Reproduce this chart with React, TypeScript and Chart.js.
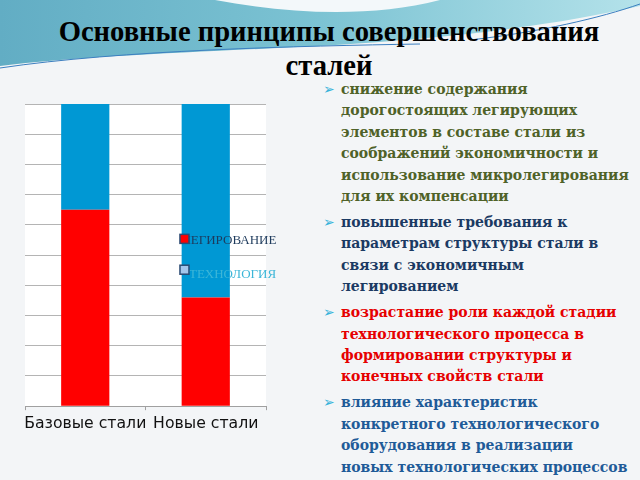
import { useEffect, useRef } from "react";
import { Chart, registerables, Plugin } from "chart.js";

Chart.register(...registerables);

const categories = ["Базовые стали", "Новые стали"];
const seriesLabels = ["ЛЕГИРОВАНИЕ", "ТЕХНОЛОГИЯ"];
const alloyingValues = [65, 36];
const technologyValues = [35, 64];
const barColors = ["#ff0000", "#0098d4"];
const legendSwatches = ["#ff0000", "#a4c6ec"];
const legendTextColors = ["#1d3a5c", "#3cb6d8"];

const titleLines = ["Основные принципы совершенствования", "сталей"];

const bullets = [
  {
    color: "#4f6228",
    lines: [
      "снижение содержания",
      "дорогостоящих легирующих",
      "элементов в составе стали из",
      "соображений экономичности и",
      "использование микролегирования",
      "для их компенсации",
    ],
  },
  {
    color: "#1b3a63",
    lines: [
      "повышенные требования к",
      "параметрам структуры стали в",
      "связи с экономичным",
      "легированием",
    ],
  },
  {
    color: "#e60000",
    lines: [
      "возрастание роли каждой стадии",
      "технологического процесса в",
      "формировании структуры и",
      "конечных свойств стали",
    ],
  },
  {
    color: "#1f5b98",
    lines: [
      "влияние характеристик",
      "конкретного технологического",
      "оборудования в реализации",
      "новых технологических процессов",
    ],
  },
];

// white plot background
const plotBg: Plugin = {
  id: "plotBg",
  beforeDraw(chart) {
    const { ctx, chartArea } = chart;
    ctx.save();
    ctx.fillStyle = "#ffffff";
    ctx.fillRect(chartArea.left, chartArea.top, chartArea.right - chartArea.left, chartArea.bottom - chartArea.top);
    ctx.restore();
  },
};

// legend drawn inside the plot, over the second bar
const innerLegend: Plugin = {
  id: "innerLegend",
  afterDraw(chart) {
    const { ctx, chartArea } = chart;
    const w = chartArea.right - chartArea.left;
    const h = chartArea.bottom - chartArea.top;
    const lx = chartArea.left + w * 0.643;
    const ys = [chartArea.top + h * 0.448, chartArea.top + h * 0.56];
    ctx.save();
    ctx.font = "13px 'Liberation Serif'";
    ctx.textBaseline = "middle";
    chart.data.datasets.forEach((ds, i) => {
      const y = ys[i];
      ctx.fillStyle = legendTextColors[i];
      ctx.fillText(String(ds.label), lx + 2 + i * 7, y + 1);
      ctx.fillStyle = legendSwatches[i];
      ctx.strokeStyle = "#2b4b74";
      ctx.lineWidth = 1.5;
      const sy = y - 5 - i * 3;
      ctx.fillRect(lx, sy, 9, 9);
      ctx.strokeRect(lx, sy, 9, 9);
    });
    ctx.restore();
  },
};

function StackChart() {
  const canvasRef = useRef<HTMLCanvasElement>(null);

  useEffect(() => {
    if (!canvasRef.current) return;
    const chart = new Chart(canvasRef.current, {
      type: "bar",
      data: {
        labels: categories,
        datasets: [
          {
            label: seriesLabels[0],
            data: alloyingValues,
            backgroundColor: barColors[0],
            barPercentage: 0.4,
            categoryPercentage: 1,
          },
          {
            label: seriesLabels[1],
            data: technologyValues,
            backgroundColor: barColors[1],
            barPercentage: 0.4,
            categoryPercentage: 1,
          },
        ],
      },
      options: {
        animation: false,
        responsive: true,
        maintainAspectRatio: false,
        layout: { padding: { left: 25, right: 24, top: 14, bottom: 0 } },
        plugins: {
          legend: { display: false },
          tooltip: { enabled: false },
        },
        scales: {
          x: {
            stacked: true,
            grid: { drawOnChartArea: false, tickLength: 4, color: "#a0a0a0" },
            border: { color: "#a0a0a0" },
            ticks: {
              color: "#111111",
              font: { family: "'DejaVu Sans'", size: 15.7 },
              maxRotation: 0,
              minRotation: 0,
              autoSkip: false,
              padding: 4,
            },
          },
          y: {
            stacked: true,
            min: 0,
            max: 100,
            ticks: { display: false, stepSize: 10 },
            border: { display: false },
            grid: { color: "#b4b4b4", drawTicks: false },
          },
        },
      },
      plugins: [plotBg, innerLegend],
    });
    return () => chart.destroy();
  }, []);

  return <canvas ref={canvasRef} />;
}

export default function App() {
  return (
    <div
      style={{
        position: "fixed",
        left: 0,
        top: 0,
        width: 640,
        height: 480,
        overflow: "hidden",
        background: "#f3f5f7",
      }}
    >
      <svg width="640" height="80" style={{ position: "absolute", left: 0, top: 0 }}>
        <defs>
          <linearGradient id="wave" x1="0" y1="0" x2="1" y2="0">
            <stop offset="0" stopColor="#62adc4" />
            <stop offset="0.5" stopColor="#7cc3d3" />
            <stop offset="1" stopColor="#b4e2ea" />
          </linearGradient>
        </defs>
        <path d="M0,0 L640,0 L640,6 C560,24 460,38 320,46 C200,52 80,56 0,66 Z" fill="url(#wave)" />
        <path d="M215,0 C290,14 370,18 440,0 Z" fill="#f3f8fa" />
        <path d="M0,68 C120,50 300,46 420,44" stroke="#3c7fc0" strokeWidth="1" fill="none" />
        <path d="M470,40 C540,32 600,18 640,4" stroke="#3c7fc0" strokeWidth="1" fill="none" />
      </svg>
      <div
        style={{
          position: "absolute",
          left: 0,
          top: 15,
          width: 658,
          textAlign: "center",
          fontFamily: "'Liberation Serif', serif",
          fontWeight: "bold",
          fontSize: 28.6,
          lineHeight: "34px",
          color: "#000",
        }}
      >
        {titleLines.map((t) => (
          <div key={t}>{t}</div>
        ))}
      </div>
      <div style={{ position: "absolute", left: 0, top: 90, width: 290, height: 347 }}>
        <StackChart />
      </div>
      <div
        style={{
          position: "absolute",
          left: 323,
          top: 79,
          width: 317,
          fontFamily: "'DejaVu Serif', serif",
          fontWeight: "bold",
          fontSize: 14,
          lineHeight: "21.4px",
        }}
      >
        {bullets.map((b, i) => (
          <div key={i} style={{ position: "relative", paddingLeft: 18, marginBottom: 4.6, color: b.color }}>
            <span style={{ position: "absolute", left: 0, top: 0, color: "#35b2da", fontFamily: "'DejaVu Sans'", fontSize: 14 }}>
              ➢
            </span>
            {b.lines.map((l) => (
              <div key={l} style={{ whiteSpace: "nowrap" }}>
                {l}
              </div>
            ))}
          </div>
        ))}
      </div>
    </div>
  );
}
